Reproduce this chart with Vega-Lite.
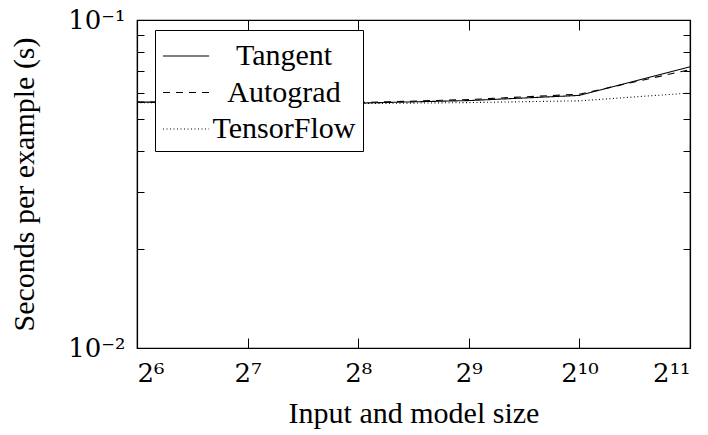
{
  "$schema": "https://vega.github.io/schema/vega-lite/v6.json",
  "autosize": "none",
  "width": 553,
  "height": 328,
  "padding": {"left": 137, "top": 20, "right": 18, "bottom": 87},
  "background": "white",
  "config": {
    "view": {"stroke": "black", "strokeWidth": 1.2},
    "font": "Liberation Serif",
    "axis": {
      "domainColor": "black",
      "domainWidth": 1.2,
      "tickColor": "black",
      "tickWidth": 1,
      "grid": false,
      "labelFont": "DejaVu Serif",
      "titleFont": "Liberation Serif",
      "labelColor": "black",
      "titleColor": "black",
      "labelFontSize": 26,
      "titleFontSize": 30,
      "titleFontWeight": "normal"
    },
    "legend": {
      "labelFont": "Liberation Serif",
      "labelFontSize": 30,
      "labelColor": "black"
    }
  },
  "data": {
    "values": [
      {"x": 64, "y": 0.0562, "method": "Tangent"},
      {"x": 128, "y": 0.0561, "method": "Tangent"},
      {"x": 256, "y": 0.0558, "method": "Tangent"},
      {"x": 512, "y": 0.0568, "method": "Tangent"},
      {"x": 1024, "y": 0.0589, "method": "Tangent"},
      {"x": 2048, "y": 0.0720, "method": "Tangent"},
      {"x": 64, "y": 0.0562, "method": "Autograd"},
      {"x": 128, "y": 0.0561, "method": "Autograd"},
      {"x": 256, "y": 0.0560, "method": "Autograd"},
      {"x": 512, "y": 0.0572, "method": "Autograd"},
      {"x": 1024, "y": 0.0594, "method": "Autograd"},
      {"x": 2048, "y": 0.0706, "method": "Autograd"},
      {"x": 64, "y": 0.0560, "method": "TensorFlow"},
      {"x": 128, "y": 0.0559, "method": "TensorFlow"},
      {"x": 256, "y": 0.0556, "method": "TensorFlow"},
      {"x": 512, "y": 0.0560, "method": "TensorFlow"},
      {"x": 1024, "y": 0.0567, "method": "TensorFlow"},
      {"x": 2048, "y": 0.0599, "method": "TensorFlow"}
    ]
  },
  "layer": [
    {
      "mark": {"type": "line", "color": "black", "strokeWidth": 1.1, "clip": true},
      "encoding": {
        "x": {
          "field": "x", "type": "quantitative",
          "scale": {"type": "log", "base": 2, "domain": [64, 2048], "nice": false},
          "axis": {
            "orient": "bottom",
            "title": "Input and model size",
            "titleFont": "Liberation Serif",
            "values": [64, 128, 256, 512, 1024, 2048],
            "tickSize": -10,
            "labelPadding": 22,
            "titlePadding": 12,
            "labelExpr": "datum.value==64?'2⁶':datum.value==128?'2⁷':datum.value==256?'2⁸':datum.value==512?'2⁹':datum.value==1024?'2¹⁰':'2¹¹'"
          }
        },
        "y": {
          "field": "y", "type": "quantitative",
          "scale": {"type": "log", "domain": [0.01, 0.1], "nice": false},
          "axis": {
            "orient": "left",
            "title": "Seconds per example (s)",
            "titleFont": "Liberation Serif",
            "values": [0.01, 0.02, 0.03, 0.04, 0.05, 0.06, 0.07, 0.08, 0.09, 0.1],
            "tickSize": -7,
            "labelPadding": 19,
            "titlePadding": 28,
            "labelExpr": "datum.value==0.1?'10⁻¹':datum.value==0.01?'10⁻²':''"
          }
        },
        "strokeDash": {
          "field": "method", "type": "nominal",
          "scale": {"domain": ["Tangent", "Autograd", "TensorFlow"], "range": [[1, 0], [7, 6], [1, 2.5]]},
          "legend": {
            "title": null,
            "orient": "none",
            "legendX": 18,
            "legendY": 10,
            "fillColor": "white",
            "strokeColor": "black",
            "padding": 7,
            "rowPadding": 2.5,
            "symbolType": "M-1,0H1.56",
            "symbolSize": 1296,
            "symbolStrokeWidth": 1.1,
            "symbolStrokeColor": "black",
            "symbolFillColor": "transparent",
            "labelFont": "Liberation Serif",
            "labelFontSize": 30,
            "labelAlign": "center",
            "labelOffset": 84
          }
        }
      }
    },
    {
      "mark": {"type": "line", "strokeOpacity": 0},
      "encoding": {
        "x": {
          "field": "x", "type": "quantitative",
          "scale": {"type": "log", "base": 2, "domain": [64, 2048], "nice": false},
          "axis": {"orient": "top", "title": null, "labels": false, "values": [64, 128, 256, 512, 1024, 2048], "tickSize": -10}
        },
        "y": {
          "field": "y", "type": "quantitative",
          "scale": {"type": "log", "domain": [0.01, 0.1], "nice": false},
          "axis": {"orient": "right", "title": null, "labels": false, "values": [0.01, 0.02, 0.03, 0.04, 0.05, 0.06, 0.07, 0.08, 0.09, 0.1], "tickSize": -7}
        },
        "detail": {"field": "method"}
      }
    }
  ],
  "resolve": {"axis": {"x": "independent", "y": "independent"}}
}
